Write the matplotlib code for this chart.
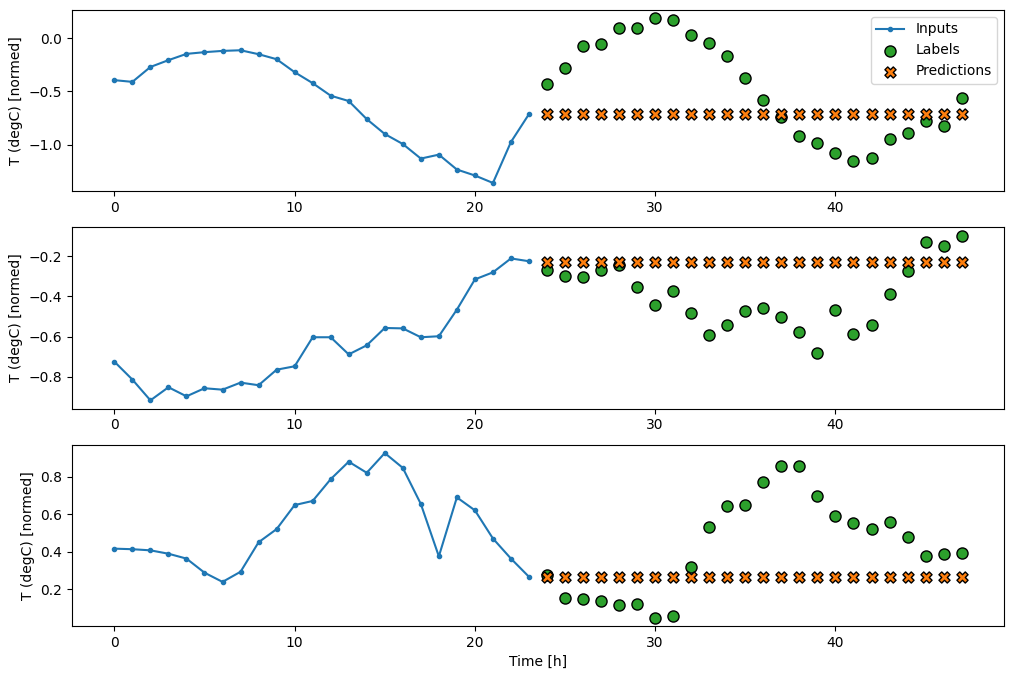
import numpy as np
import matplotlib
matplotlib.use('Agg')
import matplotlib.pyplot as plt

# time steps
input_indices = list(range(0, 24))
label_indices = list(range(24, 48))

# window 1
inputs_1 = [-0.394, -0.41, -0.27, -0.206, -0.147, -0.131, -0.119, -0.113, -0.15, -0.197,
            -0.319, -0.422, -0.54, -0.59, -0.76, -0.90, -0.994, -1.131, -1.094, -1.234,
            -1.29, -1.36, -0.975, -0.713]
labels_1 = [-0.428, -0.278, -0.072, -0.056, 0.097, 0.097, 0.188, 0.172, 0.031, -0.044,
            -0.166, -0.372, -0.581, -0.744, -0.916, -0.988, -1.075, -1.15, -1.125, -0.947,
            -0.888, -0.778, -0.825, -0.563]
preds_1 = [-0.713] * 24

# window 2
inputs_2 = [-0.724, -0.813, -0.916, -0.851, -0.896, -0.856, -0.863, -0.828, -0.841, -0.764,
            -0.747, -0.603, -0.603, -0.688, -0.643, -0.557, -0.559, -0.603, -0.598, -0.466,
            -0.316, -0.281, -0.212, -0.226]
labels_2 = [-0.268, -0.298, -0.302, -0.268, -0.243, -0.352, -0.441, -0.372, -0.481, -0.590,
            -0.540, -0.474, -0.456, -0.501, -0.578, -0.679, -0.469, -0.585, -0.540, -0.390,
            -0.274, -0.129, -0.149, -0.099]
preds_2 = [-0.229] * 24

# window 3
inputs_3 = [0.416, 0.413, 0.407, 0.389, 0.363, 0.288, 0.239, 0.293, 0.45, 0.52,
            0.648, 0.67, 0.786, 0.879, 0.82, 0.925, 0.846, 0.654, 0.375, 0.689,
            0.62, 0.47, 0.363, 0.266]
labels_3 = [0.277, 0.155, 0.148, 0.138, 0.118, 0.123, 0.048, 0.059, 0.32, 0.529,
            0.643, 0.646, 0.77, 0.857, 0.857, 0.696, 0.588, 0.552, 0.52, 0.557,
            0.48, 0.379, 0.389, 0.391]
preds_3 = [0.266] * 24

windows = [(inputs_1, labels_1, preds_1),
           (inputs_2, labels_2, preds_2),
           (inputs_3, labels_3, preds_3)]

fig = plt.figure(figsize=(10.12, 6.79), dpi=100)
plt.subplots_adjust(left=72/1012, right=1004/1012, top=1-10/679, bottom=1-626/679, hspace=0.2)

for n, (inp, lab, pred) in enumerate(windows):
    plt.subplot(3, 1, n + 1)
    plt.ylabel('T (degC) [normed]')
    plt.plot(input_indices, inp, label='Inputs', marker='.', zorder=-10)
    plt.scatter(label_indices, lab, edgecolors='k', label='Labels', c='#2ca02c', s=64)
    plt.scatter(label_indices, pred, marker='X', edgecolors='k', label='Predictions',
                c='#ff7f0e', s=64)
    if n == 0:
        plt.legend()

plt.xlabel('Time [h]')
plt.savefig('out.png', dpi=100)
